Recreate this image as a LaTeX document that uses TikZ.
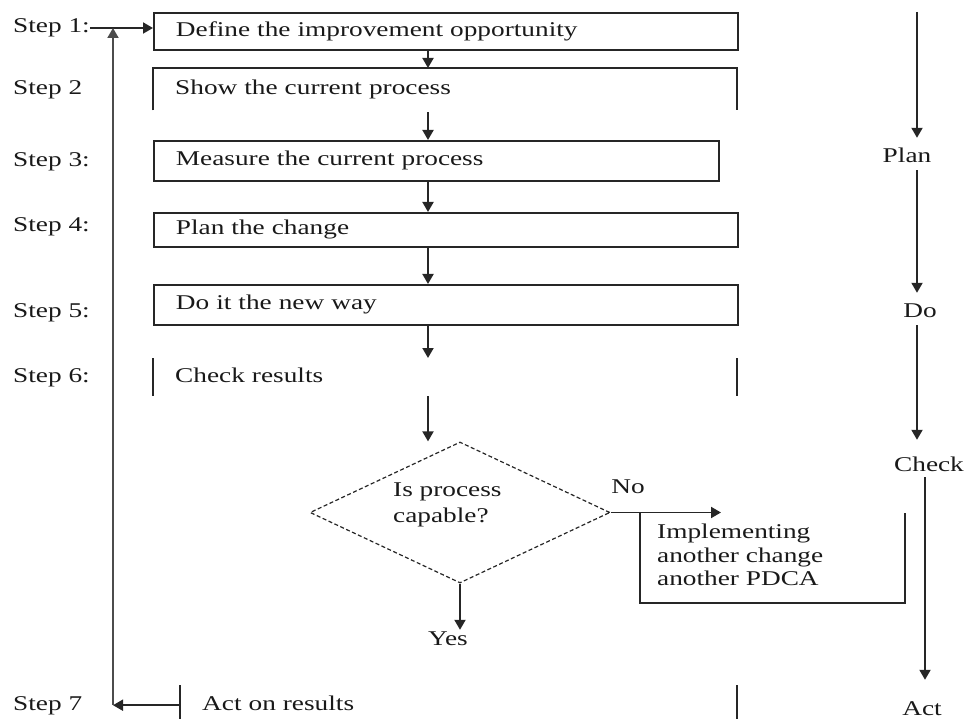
\documentclass[tikz,border=0pt]{standalone}
\usepackage{fontspec}
\setmainfont{Liberation Serif}[FakeStretch=1.3]
\usetikzlibrary{arrows.meta,shapes.geometric}
\begin{document}
\begin{tikzpicture}[x=1pt,y=-1pt,
  every node/.style={font=\fontsize{21}{26}\selectfont, text=black!90},
  ln/.style={line width=1.9pt, draw=black!85},
  arr/.style={ln, -{Triangle[length=10pt,width=11pt]}},
  stepbox/.style={rectangle, anchor=north west, inner xsep=22pt, inner ysep=0pt,
    align=left, text height=15pt, text depth=5pt},
  lbl/.style={anchor=base west, inner sep=0pt, text height=15pt, text depth=5pt},
  phase/.style={anchor=base, inner sep=0pt, text height=15pt, text depth=5pt},
  para/.style={anchor=north west, inner sep=0pt, align=left}]
\useasboundingbox (0,0) rectangle (966,719);

% step labels
\node[lbl] (s1) at (13,33)  {Step 1:};
\node[lbl] (s2) at (13,95)  {Step 2};
\node[lbl] (s3) at (13,167) {Step 3:};
\node[lbl] (s4) at (13,232) {Step 4:};
\node[lbl] (s5) at (13,317) {Step 5:};
\node[lbl] (s6) at (13,382) {Step 6:};
\node[lbl] (s7) at (13,710) {Step 7};

% process steps
\node[stepbox, ln, text width=540pt, minimum height=37pt] (b1) at (153,12) {Define the improvement opportunity};
\node[stepbox, text width=540pt, minimum height=42pt] (b2) at (153,68) {Show the current process};
\draw[ln] (b2.south west) -- (b2.north west) -- (b2.north east) -- (b2.south east);
\node[stepbox, ln, text width=521pt, minimum height=40pt] (b3) at (153,140) {Measure the current process};
\node[stepbox, ln, text width=540pt, minimum height=34pt] (b4) at (153,212) {Plan the change};
\node[stepbox, ln, text width=540pt, minimum height=40pt] (b5) at (153,284) {Do it the new way};
\node[stepbox, text width=540pt, minimum height=38pt] (b6) at (153,358) {Check results};
\draw[ln] (b6.north west) -- (b6.south west);
\draw[ln] (b6.north east) -- (b6.south east);
\node[stepbox, text width=513pt, minimum height=40pt] (b7) at (180,685) {Act on results};
\draw[ln] (b7.north west) -- (b7.south west);
\draw[ln] (b7.north east) -- (b7.south east);

% decision
\node[diamond, draw=black!85, line width=1.2pt, dash pattern=on 4pt off 2.5pt,
      minimum width=300pt, minimum height=141pt, inner sep=0pt] (dec) at (460,512.5) {};
\node[para] (q) at (393,483) {Is process\\capable?};
\node[phase] (no) at (628,493) {No};
\node[phase] (yes) at (448,645) {Yes};

% alternative branch
\node[rectangle, anchor=north west, minimum width=265pt, minimum height=90pt, inner sep=0pt] (imp) at (640,513) {};
\draw[ln] (imp.north west) -- (imp.south west) -- (imp.south east) -- (imp.north east);
\node[para, font=\fontsize{21}{23.5}\selectfont] (impt) at (657,524) {Implementing\\another change\\another PDCA};

% main flow
\coordinate (ax) at (428,0);
\draw[arr] (b1.south -| ax) -- (b2.north -| ax);
\draw[arr, shorten <=2pt] (b2.south -| ax) -- (b3.north -| ax);
\draw[arr] (b3.south -| ax) -- (b4.north -| ax);
\draw[arr] (b4.south -| ax) -- (b5.north -| ax);
\draw[arr] (b5.south -| ax) -- (b6.north -| ax);
\draw[arr] (b6.south -| ax) -- (dec.north -| ax);
\draw[arr] (dec.south) -- (dec.south |- yes.north);
\coordinate (noend) at (721,0);
\draw[arr] (dec.east) -- (dec.east -| noend);

% feedback loop
\coordinate (fb) at (113,0);
\draw[arr] (s1.east) -- (s1.east -| b1.west);
\draw[arr] (b7.west) -- (b7.west -| fb);
\draw[arr, draw=black!70] (b7.west -| fb) -- (s1.east -| fb);

% PDCA column
\node[phase] (plan)  at (907,163) {Plan};
\node[phase] (do)    at (920,317) {Do};
\node[phase] (check) at (929,471) {Check};
\node[phase] (act)   at (922,715) {Act};
\coordinate (px) at (917,12);
\coordinate (cx) at (925,0);
\draw[arr, shorten >=10pt] (px) -- (plan.north -| px);
\draw[arr, shorten <=2pt, shorten >=9pt] (plan.south -| px) -- (do.north -| px);
\draw[arr, shorten <=3pt, shorten >=16pt] (do.south -| px) -- (check.north -| px);
\draw[arr, shorten <=1pt, shorten >=20pt] (check.south -| cx) -- (act.north -| cx);
\end{tikzpicture}
\end{document}
